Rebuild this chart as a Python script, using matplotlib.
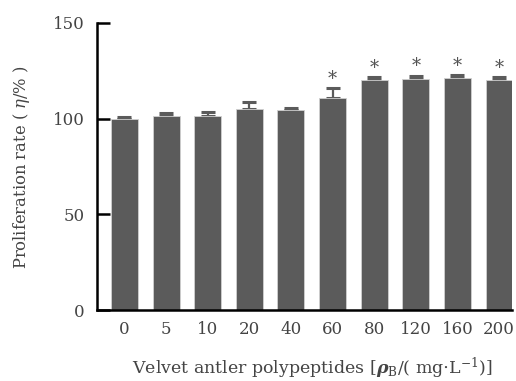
import matplotlib
matplotlib.use("Agg")
import matplotlib.pyplot as plt
import numpy as np

plt.rcParams["font.family"] = ["DejaVu Serif"]
plt.rcParams["mathtext.fontset"] = "custom"
plt.rcParams["mathtext.rm"] = "DejaVu Serif"
plt.rcParams["mathtext.it"] = "DejaVu Serif:italic"
plt.rcParams["mathtext.bf"] = "DejaVu Serif:bold"
plt.rcParams["mathtext.bfit"] = "DejaVu Serif:bold:italic"

# data
doses = ["0", "5", "10", "20", "40", "60", "80", "120", "160", "200"]
rate = [100.0, 101.5, 101.5, 105.0, 104.5, 110.8, 120.0, 120.8, 121.0, 120.0]
err = [1.0, 1.2, 2.0, 3.5, 1.3, 5.2, 1.6, 1.7, 1.6, 1.6]
signif = [False, False, False, False, False, True, True, True, True, True]

bar_color = "#5b5b5b"
text_color = "#444444"

fig = plt.figure(figsize=(5.16, 3.81), dpi=100)
ax = fig.add_axes([0.188, 0.186, 0.805, 0.754])

x = np.arange(len(doses))
ax.bar(x, rate, width=0.65, color=bar_color, edgecolor="#d0d0d0", linewidth=0.6, zorder=2)
ax.errorbar(x, rate, yerr=[np.zeros(len(err)), err], fmt="none", ecolor=bar_color,
            elinewidth=1.6, capsize=5, capthick=2.2, zorder=1)

# significance marks
for xi, r, e, s in zip(x, rate, err, signif):
    if s:
        ax.text(xi, r + e + 0.2, "*", ha="center", va="bottom", fontsize=13,
                color="#555555")

ax.set_xlim(-0.66, 9.32)
ax.set_ylim(0, 150)
ax.set_yticks([0, 50, 100, 150])
ax.set_xticks(x)
ax.set_xticklabels(doses)

for side in ["top", "right"]:
    ax.spines[side].set_visible(False)
for side in ["left", "bottom"]:
    ax.spines[side].set_linewidth(1.8)
    ax.spines[side].set_color("black")

ax.tick_params(axis="y", direction="in", length=9, width=1.8, pad=9,
               labelsize=12, labelcolor=text_color)
ax.tick_params(axis="x", length=0, pad=8, labelsize=12, labelcolor=text_color)

fig.text(22 / 516, 1 - 167 / 381, r"Proliferation rate ( $\mathit{\eta}$/% )",
         rotation=90, ha="center", va="center", fontsize=11.8, color=text_color)
ax.text(0.518, -0.202,
        r"Velvet antler polypeptides [$\mathbfit{\rho}_\mathrm{B}$/( mg$\cdot$L$^{-1}$)]",
        transform=ax.transAxes, ha="center", va="center", fontsize=12.5,
        color=text_color)

fig.savefig("out.png", dpi=100)
